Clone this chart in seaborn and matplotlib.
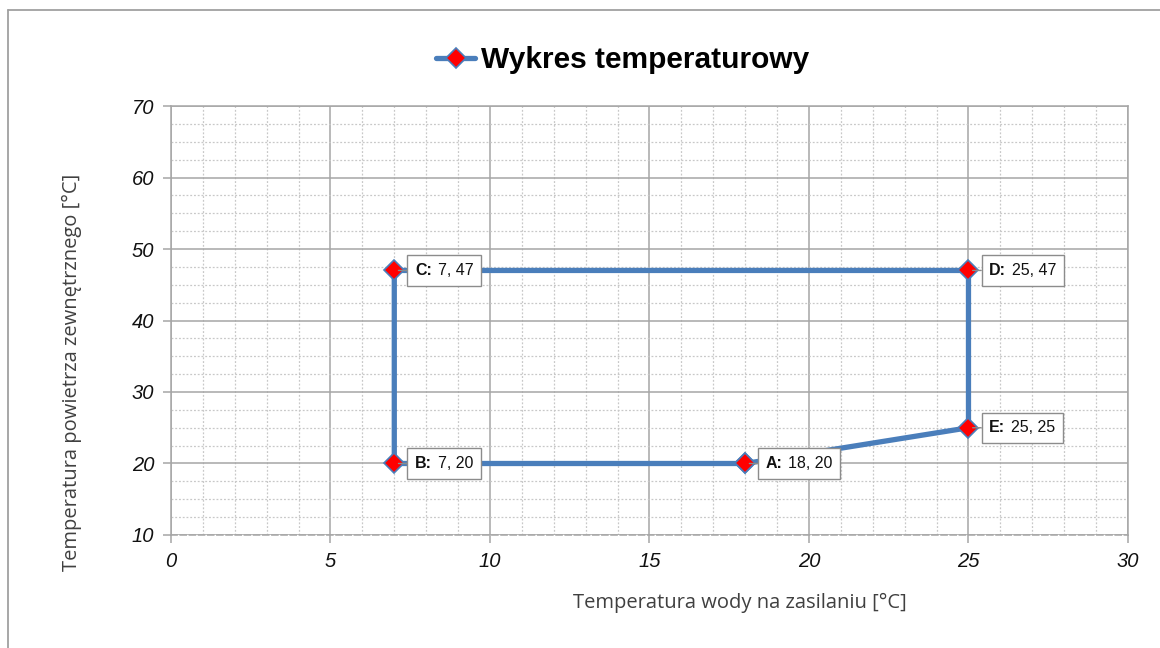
import matplotlib
matplotlib.use("Agg")
import matplotlib.pyplot as plt
from matplotlib.lines import Line2D
from matplotlib.ticker import MultipleLocator
from matplotlib.offsetbox import AnnotationBbox, HPacker, TextArea
import seaborn as sns
import pandas as pd

# Operating envelope corners (water supply temp, outdoor air temp)
point_names = ["A", "B", "C", "D", "E", "A"]
water_temp = [18, 7, 7, 25, 25, 18]
air_temp = [20, 20, 47, 47, 25, 20]
series_name = "Wykres temperaturowy"
x_label = "Temperatura wody na zasilaniu [°C]"
y_label = "Temperatura powietrza zewnętrznego [°C]"

sns.set_theme(style="white")
plt.rcParams["font.family"] = ["Liberation Sans", "DejaVu Sans"]

line_color = "#4a7ebb"
marker_color = "#ff0000"

df = pd.DataFrame({"x": water_temp, "y": air_temp, "name": point_names})

fig = plt.figure(figsize=(11.6, 6.48), dpi=100)
ax = fig.add_axes([0.1474, 0.1744, 0.8250, 0.6620])

sns.lineplot(data=df, x="x", y="y", sort=False, estimator=None, ax=ax,
             color=line_color, linewidth=3.8, marker="D", markersize=10,
             markerfacecolor=marker_color, markeredgecolor=line_color,
             markeredgewidth=1.2, zorder=5)

ax.set_xlim(0, 30)
ax.set_ylim(10, 70)
ax.xaxis.set_major_locator(MultipleLocator(5))
ax.xaxis.set_minor_locator(MultipleLocator(1))
ax.yaxis.set_major_locator(MultipleLocator(10))
ax.yaxis.set_minor_locator(MultipleLocator(2.5))

ax.grid(which="major", color="#a6a6a6", linewidth=1.1, linestyle="-")
ax.grid(which="minor", color="#c8c8c8", linewidth=0.9, linestyle=(0, (1.5, 1.5)))
ax.set_axisbelow(True)

for side in ["left", "right", "top"]:
    ax.spines[side].set_color("#a6a6a6")
    ax.spines[side].set_linewidth(1.1)
ax.spines["bottom"].set_color("#a6a6a6")
ax.spines["bottom"].set_linewidth(1.1)
ax.spines["bottom"].set_linestyle((0, (4, 2)))

ax.tick_params(which="major", direction="out", length=6, width=1.1,
               color="#a6a6a6", labelsize=14.5, labelcolor="#111111", pad=6)
ax.tick_params(which="minor", length=0)
ax.tick_params(axis="x", bottom=True)
ax.tick_params(axis="y", left=True)
for lab in ax.get_xticklabels() + ax.get_yticklabels():
    lab.set_fontstyle("italic")

label_font = ["Open Sans", "DejaVu Sans"]
ax.set_xlabel(x_label, fontsize=14.5, color="#404040", fontfamily=label_font,
              va="center", ha="center")
ax.set_ylabel(y_label, fontsize=14.5, color="#404040", fontfamily=label_font,
              va="center", ha="center")
ax.xaxis.set_label_coords(0.5946, -0.1585)
ax.yaxis.set_label_coords(-0.1035, 0.38)

# Point labels in callout boxes: bold name, regular coordinates
for name, xv, yv in zip(point_names[:-1], water_temp[:-1], air_temp[:-1]):
    parts = HPacker(children=[
        TextArea(f"{name}:", textprops=dict(fontsize=11.5, fontweight="bold",
                                            color="#111111",
                                            family="Liberation Sans")),
        TextArea(f"{xv}, {yv}", textprops=dict(fontsize=11.5, color="#111111",
                                               family="Liberation Sans")),
    ], pad=0, sep=4, align="baseline")
    ab = AnnotationBbox(parts, (xv, yv), xybox=(15, 0),
                        xycoords="data", boxcoords="offset points",
                        box_alignment=(0, 0.5), pad=0.5,
                        bboxprops=dict(boxstyle="square,pad=0.5", fc="white",
                                       ec="#8c8c8c", lw=1.0),
                        arrowprops=dict(arrowstyle="-", color="#8c8c8c",
                                        lw=1.0, shrinkA=0, shrinkB=3),
                        zorder=6)
    ax.add_artist(ab)

# Legend acting as the chart heading
handle = Line2D([], [], color=line_color, linewidth=3.8, marker="D",
                markersize=10, markerfacecolor=marker_color,
                markeredgecolor=line_color, markeredgewidth=1.2)
leg = fig.legend([handle], [series_name], loc="center",
                 bbox_to_anchor=(0.537, 0.907), frameon=False,
                 handlelength=1.3, handletextpad=0.2, labelcolor="black",
                 prop=dict(family="Liberation Sans", weight="bold", size=21.5))

# Outer frame (top and left edges)
fig.add_artist(Line2D([8 / 1160, 1], [1 - 10 / 648, 1 - 10 / 648],
                      transform=fig.transFigure, color="#a0a0a0", lw=1.3))
fig.add_artist(Line2D([8 / 1160, 8 / 1160], [0, 1 - 10 / 648],
                      transform=fig.transFigure, color="#a0a0a0", lw=1.3))

fig.savefig("out.png", dpi=100, facecolor="white")
